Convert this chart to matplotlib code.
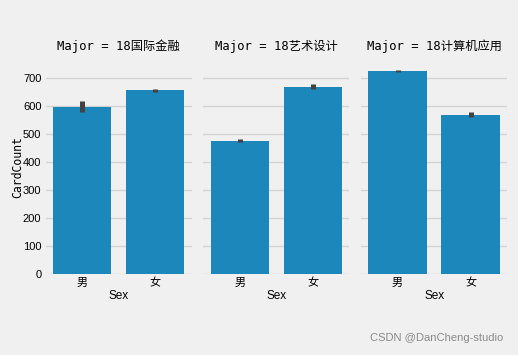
import matplotlib
matplotlib.use("Agg")
import matplotlib.pyplot as plt

majors = ["18国际金融", "18艺术设计", "18计算机应用"]
sexes = ["男", "女"]
# mean CardCount per panel, [男, 女]
means = [[597, 656], [476, 668], [727, 570]]
ci_low = [[579, 650], [471, 660], [722, 561]]
ci_high = [[617, 662], [482, 678], [731, 579]]

bar_color = "#1c87bb"
err_color = "#424242"
bg = "#f0f0f0"
mono = ["DejaVu Sans Mono", "Noto Sans CJK SC"]
sans = ["Liberation Sans", "Noto Sans CJK SC"]

fig = plt.figure(figsize=(5.18, 3.55), dpi=100, facecolor=bg)
left, width, gap = 0.088, 0.282, 0.0225
bottom, height = 0.228, 0.603

axes = []
for i, major in enumerate(majors):
    ax = fig.add_axes([left + i * (width + gap), bottom, width, height],
                      facecolor=bg, sharey=axes[0] if axes else None)
    axes.append(ax)
    x = range(len(sexes))
    ax.bar(x, means[i], width=0.8, color=bar_color, zorder=2)
    ax.vlines(x, ci_low[i], ci_high[i], color=err_color, linewidth=3.6, zorder=3)
    ax.set_xlim(-0.5, 1.5)
    ax.set_ylim(0, 765)
    ax.set_yticks(range(0, 800, 100))
    ax.set_xticks(list(x))
    ax.set_xticklabels(sexes, family=sans, fontsize=8.5)
    ax.grid(axis="y", color="#d3d3d3", linewidth=1, zorder=0)
    ax.grid(axis="x", visible=False)
    for s in ax.spines.values():
        s.set_visible(False)
    ax.tick_params(length=0, pad=3, labelsize=8)
    ax.set_title(f"Major = {major}", family=mono, fontsize=8.8, pad=7)
    ax.set_xlabel("Sex", family=sans, fontsize=8.5, labelpad=1)
    if i == 0:
        ax.set_ylabel("CardCount", family=mono, fontsize=8.3, labelpad=-1)
        for lab in ax.get_yticklabels():
            lab.set_family(sans)
    else:
        ax.tick_params(axis="y", labelleft=False)

fig.text(0.972, 0.047, "CSDN @DanCheng-studio", ha="right", va="center",
         family=sans, fontsize=8, color="#8a8a8a")

fig.savefig("out.png", dpi=100, facecolor=bg)
